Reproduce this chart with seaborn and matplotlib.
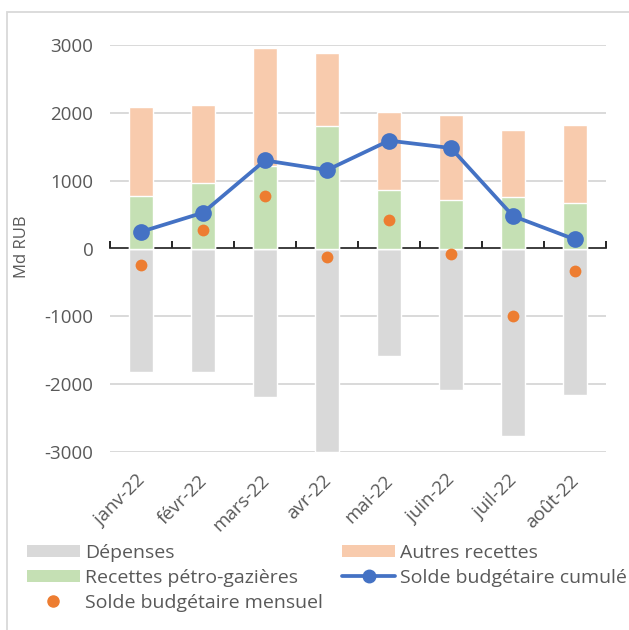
import matplotlib
matplotlib.use("Agg")
import matplotlib.pyplot as plt
import matplotlib.transforms as mtransforms
import seaborn as sns
import numpy as np
import pandas as pd
from matplotlib.patches import Patch, Rectangle
from matplotlib.lines import Line2D

months = ["janv-22", "févr-22", "mars-22", "avr-22", "mai-22", "juin-22", "juil-22", "août-22"]
depenses = [-1827, -1827, -2188, -3000, -1579, -2079, -2762, -2163]
recettes_petro = [780, 963, 1210, 1807, 864, 711, 765, 667]
autres_recettes = [1309, 1151, 1748, 1072, 1141, 1264, 988, 1160]
solde_cumule = [246, 528, 1299, 1156, 1590, 1481, 479, 133]
solde_mensuel = [-248, 277, 770, -124, 415, -84, -990, -332]

df = pd.DataFrame({
    "mois": months,
    "dep": depenses,
    "petro": recettes_petro,
    "autres": autres_recettes,
    "cumul": solde_cumule,
    "mensuel": solde_mensuel,
})
df["total"] = df["petro"] + df["autres"]

sns.set_theme(style="white")
plt.rcParams["font.family"] = ["Open Sans", "DejaVu Sans"]

C_GRAY = "#D9D9D9"
C_ORANGE_L = "#F8CBAD"
C_GREEN = "#C5E0B4"
C_BLUE = "#4472C4"
C_ORANGE = "#ED7D31"
C_TEXT = "#595959"
FS = 13.5
FS_LEG = 14

fig = plt.figure(figsize=(6.29, 6.30), dpi=100)
ax = fig.add_axes([110/629, 1-452/630, 496/629, (452-45)/630])

bw = 0.40
sns.barplot(data=df, x="mois", y="dep", color=C_GRAY, saturation=1, width=bw, ax=ax, zorder=2)
sns.barplot(data=df, x="mois", y="total", color=C_ORANGE_L, saturation=1, width=bw, ax=ax, zorder=2)
sns.barplot(data=df, x="mois", y="petro", color=C_GREEN, saturation=1, width=bw, ax=ax, zorder=3)
sns.pointplot(data=df, x="mois", y="cumul", color=C_BLUE, markers="o", markersize=10,
              linewidth=2.7, errorbar=None, ax=ax, zorder=5)
sns.stripplot(data=df, x="mois", y="mensuel", color=C_ORANGE, jitter=False, size=8.5,
              linewidth=0, ax=ax, zorder=6)

ax.set_xlim(-0.5, len(months) - 0.5)
ax.set_ylim(-3000, 3000)
ax.set_yticks([-3000, -2000, -1000, 0, 1000, 2000, 3000])
ax.set_yticklabels(["-3000", "-2000", "-1000", "0", "1000", "2000", "3000"])
for v in [-3000, -2000, -1000, 1000, 2000, 3000]:
    ax.axhline(v, color=C_GRAY, lw=1.4, zorder=0)
for s in ax.spines.values():
    s.set_visible(False)
ax.tick_params(axis="y", length=0, pad=12, labelsize=FS, labelcolor=C_TEXT)
ax.set_xticks(range(len(months)))
ax.set_xticklabels(months, rotation=45, ha="right", rotation_mode="anchor")
ax.tick_params(axis="x", length=0, pad=14, labelsize=FS, labelcolor=C_TEXT)
shift = mtransforms.ScaledTranslation(-5/100, 0, fig.dpi_scale_trans)
for lab in ax.get_xticklabels():
    lab.set_transform(lab.get_transform() + shift)
ax.set_xlabel("")
ax.set_ylabel("Md RUB", fontsize=12, color=C_TEXT)
ax.yaxis.set_label_coords((30 - 110) / 496, (452 - 247) / 407)

sec = ax.secondary_xaxis(0.5)
sec.set_xticks(np.arange(-0.5, len(months), 1.0))
sec.set_xticklabels([])
sec.tick_params(axis="x", direction="out", length=5, width=1.2, color="black")
sec.spines["bottom"].set_color("black")
sec.spines["bottom"].set_linewidth(1.4)
sec.spines["bottom"].set_zorder(4)

handles = [
    Patch(facecolor=C_GRAY, edgecolor="none"),
    Patch(facecolor=C_GREEN, edgecolor="none"),
    Line2D([], [], color="none", marker="o", markerfacecolor=C_ORANGE, markeredgecolor=C_ORANGE, markersize=8),
    Patch(facecolor=C_ORANGE_L, edgecolor="none"),
    Line2D([], [], color=C_BLUE, lw=2.7, marker="o", markersize=9),
]
labels = ["Dépenses", "Recettes pétro-gazières", "Solde budgétaire mensuel",
          "Autres recettes", "Solde budgétaire cumulé"]
leg = fig.legend(handles, labels, ncol=2, loc="upper left", bbox_to_anchor=(27/629, 1-544/630),
                 frameon=False, fontsize=FS_LEG, handlelength=2.7, handleheight=0.6,
                 handletextpad=0.28, columnspacing=1.0, labelspacing=0.36,
                 borderpad=0, borderaxespad=0)
for t in leg.get_texts():
    t.set_color(C_TEXT)

fig.patches.append(Rectangle((7/629, -0.1), 1.2, 1 - 12/630 + 0.1, transform=fig.transFigure,
                             facecolor="none", edgecolor="#D9D9D9", lw=1.3))

fig.savefig("out.png", dpi=100)
